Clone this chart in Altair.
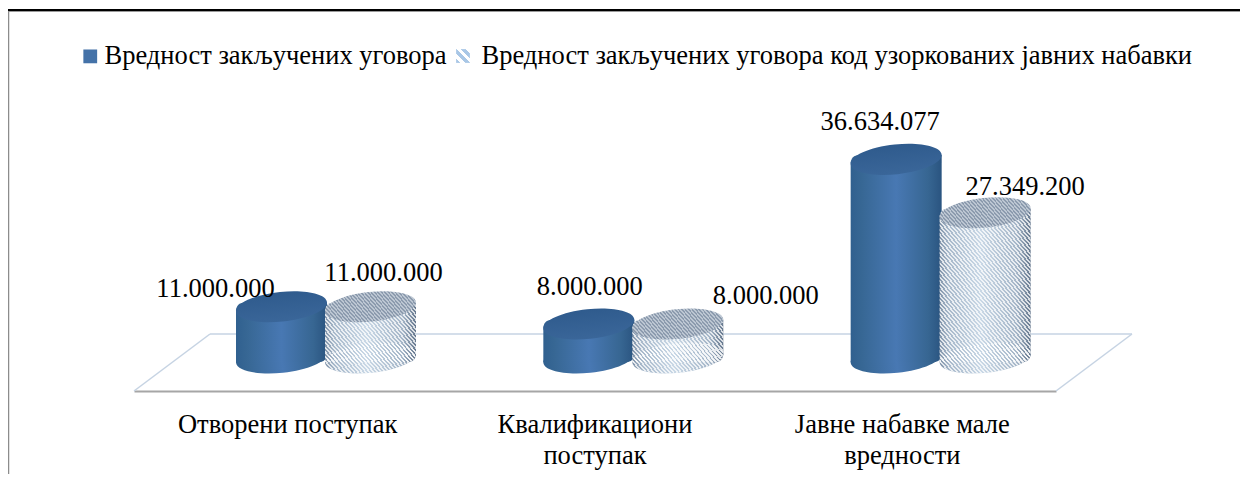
import math
import altair as alt
import pandas as pd

CATEGORIES = ["Отворени поступак", "Квалификациони\nпоступак", "Јавне набавке мале\nвредности"]
SERIES = ["Вредност закључених уговора",
          "Вредност закључених уговора код узоркованих јавних набавки"]
VALUES_A = [11000000, 8000000, 36634077]
VALUES_B = [11000000, 8000000, 27349200]
BASE_VALUE = 2090000      # the cylinders stand slightly in front of the scale's zero
LABEL_NUDGE_A = [(-66, -18), (1, -37), (-16, -37)]
LABEL_NUDGE_B = [(13, -34), (88, -28), (40, -26)]

SERIF = "Liberation Serif"
FS = 26.5
W, H = 1232, 383
Y_RANGE = [362, 5.5]
Y_DOMAIN = [0, 62000000]
px_per_unit = (Y_RANGE[0] - Y_RANGE[1]) / Y_DOMAIN[1]
BAR_W = 91
ELLIPSE = "M-1 0A1 .325 0 1 1 1 0A1 .325 0 1 1 -1 0Z"
E_SIZE = 8360
E_ANGLE = 354
TIP = 4.3

rows = []
for c, a, b in zip(CATEGORIES, VALUES_A, VALUES_B):
    rows.append(dict(cat=c, series=SERIES[0], value=a, base=BASE_VALUE))
    rows.append(dict(cat=c, series=SERIES[1], value=b, base=BASE_VALUE))
df = pd.DataFrame(rows)

x_enc = alt.X("cat:N", sort=CATEGORIES,
              scale=alt.Scale(domain=CATEGORIES, range=[126, 1048], paddingInner=0, paddingOuter=0),
              axis=alt.Axis(title=None, orient="bottom", labelAngle=0, ticks=False, grid=False,
                            domainColor="#a6a6a6", domainWidth=2,
                            labelFont=SERIF, labelFontSize=FS, labelColor="#000000",
                            labelPadding=20, labelLimit=400, labelLineHeight=31,
                            labelOverlap=False, labelBaseline="top",
                            labelExpr="split(datum.label, '\\n')"))
xo_enc = alt.XOffset("series:N", sort=SERIES,
                     scale=alt.Scale(domain=SERIES, range=[103, 281], paddingInner=0, paddingOuter=0))
Y_SCALE = alt.Scale(domain=Y_DOMAIN, range=Y_RANGE, nice=False, zero=False)
y_enc = alt.Y("value:Q", scale=Y_SCALE, axis=None)
y_base = alt.Y("base:Q", scale=Y_SCALE, axis=None)


def h_gradient(stops):
    return alt.LinearGradient(gradient="linear", x1=0, x2=1, y1=0, y2=0,
                              stops=[alt.GradientStop(offset=o, color=c) for o, c in stops])


def v_gradient(stops):
    return alt.LinearGradient(gradient="linear", x1=0, x2=0, y1=0, y2=1,
                              stops=[alt.GradientStop(offset=o, color=c) for o, c in stops])


def stripes(w, h, c_a, c_b, phi=50.0, period=3.0):
    """Hatch drawn as a hard-stop linear gradient in the mark's bounding box."""
    s, c = math.sin(math.radians(phi)), math.cos(math.radians(phi))
    lam = (s / h + c / w) / (s * s / h / h + c * c / w / w)
    dx, dy = lam * s / h, -lam * c / w
    n = max(2, int((w * s + h * c) / period))
    stops = []
    for i in range(n):
        a, m, e = i / n, (i + .5) / n, (i + 1) / n
        stops += [alt.GradientStop(offset=a, color=c_a), alt.GradientStop(offset=m, color=c_a),
                  alt.GradientStop(offset=m, color=c_b), alt.GradientStop(offset=e, color=c_b)]
    return alt.LinearGradient(gradient="linear", x1=0, y1=1, x2=dx, y2=1 + dy, stops=stops)


BLUE_BODY = h_gradient([(0, "#30608f"), (.12, "#376794"), (.5, "#4878b3"), (.85, "#376692"), (1, "#2a5480")])
BLUE_TOP = v_gradient([(0, "#2f5b8d"), (1, "#3a6699")])
HATCH_BODY = h_gradient([(0, "#8194aa"), (.1, "#a8b9cb"), (.45, "#c9d8e6"), (.85, "#a5b6c8"), (1, "#66788e")])
WHITE_ALPHA = "rgba(255,255,255,0.75)"
CLEAR = "rgba(255,255,255,0)"

layers = []


def deco(x, x2, y, y2, color, width):
    return alt.Chart(df.head(1)).mark_rule(color=color, strokeWidth=width).encode(
        x=alt.value(x), x2=alt.value(x2), y=alt.value(y), y2=alt.value(y2))


# page furniture
layers.append(deco(0, W, 2, 2, "#000000", 2))
layers.append(deco(0, W, 3.5, 3.5, "#9a9a9a", 1))
layers.append(deco(0.5, 0.5, 3, 466, "#8c8c8c", 1.5))
# floor of the 3-D plot
layers.append(deco(202, 1124, 326, 326, "#c6d3e3", 1.5))
layers.append(deco(202, 126, 326, 383, "#c6d3e3", 1.5))
layers.append(deco(1124, 1048, 326, 383, "#c6d3e3", 1.5))

# invisible layer that owns the legend
layers.append(alt.Chart(df).mark_square(size=0).encode(
    x=x_enc, xOffset=xo_enc, y=y_enc,
    color=alt.Color("series:N", sort=SERIES,
                    scale=alt.Scale(domain=SERIES, range=["#4472a8", "rgba(0,0,0,0)"]),
                    legend=alt.Legend(title=None, orient="none", legendX=69, legendY=35,
                                      direction="horizontal", symbolType="square", symbolSize=190,
                                      symbolStrokeWidth=0, symbolOpacity=1,
                                      labelFont=SERIF, labelFontSize=FS, labelColor="#000000",
                                      labelLimit=900, labelOffset=1, columnPadding=7,
                                      symbolOffset=0))))
# hatch swatch under the transparent legend symbol
layers.append(alt.Chart(df.head(1)).mark_square(
    size=190, fill=stripes(14, 14, "#a9c7e6", "#ffffff", phi=45, period=5), opacity=1, filled=True
).encode(x=alt.value(455), y=alt.value(48)))

BAR_STYLE = dict(width=BAR_W, opacity=1, yOffset=-TIP, y2Offset=TIP,
                 cornerRadiusTopLeft=8, cornerRadiusBottomRight=8)
ELL_STYLE = dict(shape=ELLIPSE, size=E_SIZE, angle=E_ANGLE, filled=True, opacity=1, strokeWidth=0)

for i, cat in enumerate(CATEGORIES):
    for j, s in enumerate(SERIES):
        v = (VALUES_A if j == 0 else VALUES_B)[i]
        row = df[(df.cat == cat) & (df.series == s)]
        h_px = (v - BASE_VALUE) * px_per_unit + 2 * TIP
        if j == 0:
            body, top, over = BLUE_BODY, BLUE_TOP, None
        else:
            body = HATCH_BODY
            top = stripes(92, 30, "#8c9bae", "#bcc6d2", phi=56, period=2.6)
            over = stripes(BAR_W, h_px, WHITE_ALPHA, CLEAR)
        base = alt.Chart(row)
        bar = base.mark_bar(fill=body, **BAR_STYLE).encode(
            x=x_enc, xOffset=xo_enc, y=y_enc, y2=alt.Y2("base"))
        foot = base.mark_point(fill=body, **ELL_STYLE).encode(x=x_enc, xOffset=xo_enc, y=y_base)
        layers += [foot, bar]
        if over is not None:
            layers.append(base.mark_bar(fill=over, **BAR_STYLE).encode(
                x=x_enc, xOffset=xo_enc, y=y_enc, y2=alt.Y2("base")))
            layers.append(base.mark_point(fill=stripes(92, 30, WHITE_ALPHA, CLEAR, phi=56), **ELL_STYLE).encode(
                x=x_enc, xOffset=xo_enc, y=y_base))
        layers.append(base.mark_point(fill=top, **ELL_STYLE).encode(x=x_enc, xOffset=xo_enc, y=y_enc))

# data labels
for i, cat in enumerate(CATEGORIES):
    for j, s in enumerate(SERIES):
        dx, dy = (LABEL_NUDGE_A if j == 0 else LABEL_NUDGE_B)[i]
        row = df[(df.cat == cat) & (df.series == s)]
        layers.append(alt.Chart(row).transform_calculate(
            lbl="replace(format(datum.value, ','), /,/g, '.')"
        ).mark_text(font=SERIF, fontSize=FS, color="#000000", dx=dx, dy=dy, align="center",
                    baseline="middle").encode(
            x=x_enc, xOffset=xo_enc, y=y_enc, text="lbl:N"))

chart = alt.layer(*layers).properties(
    width=W, height=H, padding={"left": 0, "top": 0, "right": 0, "bottom": 83},
    autosize=alt.AutoSizeParams(type="none"), background="#ffffff"
).configure_view(stroke=None)

chart.save("out.html", embed_options={"renderer": "svg", "actions": False})
